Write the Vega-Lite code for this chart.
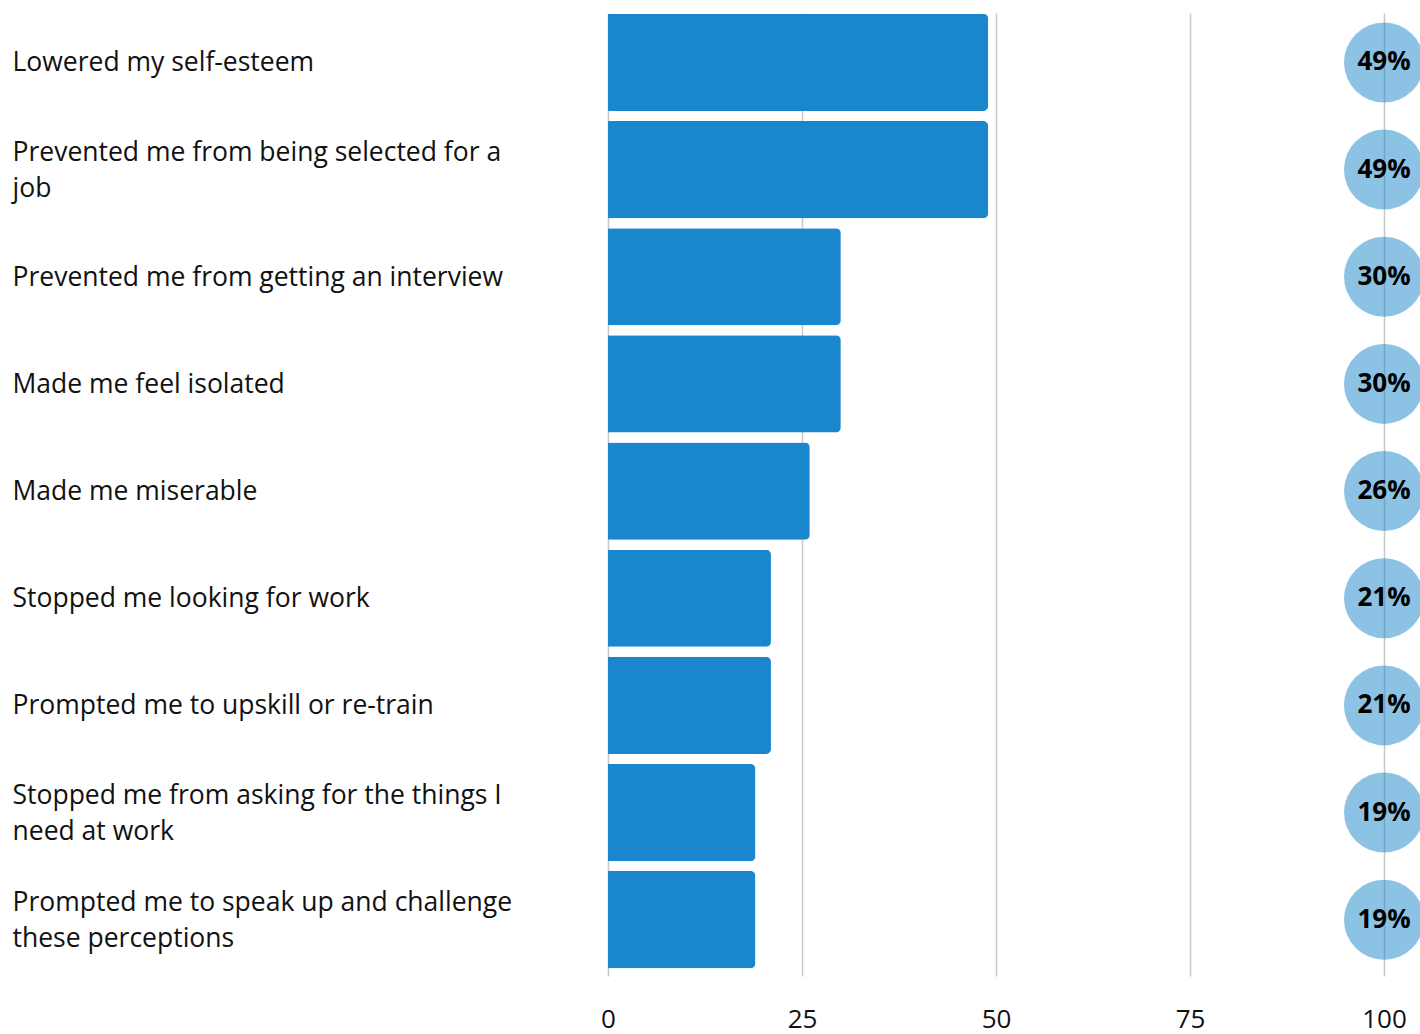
{
  "$schema": "https://vega.github.io/schema/vega-lite/v6.json",
  "width": 776,
  "height": 963,
  "autosize": {"type": "none"},
  "padding": {"left": 608, "top": 13, "right": 36, "bottom": 58},
  "background": "white",
  "config": {"view": {"stroke": null}, "font": "Open Sans"},
  "data": {
    "values": [
      {"category": "Lowered my self-esteem", "value": 49, "label": "49%"},
      {"category": "Prevented me from being selected for a job", "value": 49, "label": "49%"},
      {"category": "Prevented me from getting an interview", "value": 30, "label": "30%"},
      {"category": "Made me feel isolated", "value": 30, "label": "30%"},
      {"category": "Made me miserable", "value": 26, "label": "26%"},
      {"category": "Stopped me looking for work", "value": 21, "label": "21%"},
      {"category": "Prompted me to upskill or re-train", "value": 21, "label": "21%"},
      {"category": "Stopped me from asking for the things I need at work", "value": 19, "label": "19%"},
      {"category": "Prompted me to speak up and challenge these perceptions", "value": 19, "label": "19%"}
    ]
  },
  "encoding": {
    "y": {
      "field": "category",
      "type": "nominal",
      "sort": null,
      "scale": {"paddingInner": 0.093, "paddingOuter": 0.04, "align": 0.1},
      "axis": {
        "title": null,
        "domain": false,
        "ticks": false,
        "labelAlign": "left",
        "labelBaseline": "middle",
        "labelPadding": 596,
        "labelLimit": 700,
        "labelFontSize": 26.5,
        "labelLineHeight": 36,
        "labelColor": "#111111",
        "labelFont": "Open Sans",
        "labelOffset": {"condition": {"test": "length(datum.value) > 40", "value": -17}, "value": 1},
        "labelExpr": "datum.value == 'Prevented me from being selected for a job' ? ['Prevented me from being selected for a', 'job'] : datum.value == 'Stopped me from asking for the things I need at work' ? ['Stopped me from asking for the things I', 'need at work'] : datum.value == 'Prompted me to speak up and challenge these perceptions' ? ['Prompted me to speak up and challenge', 'these perceptions'] : datum.value"
      }
    }
  },
  "layer": [
    {
      "mark": {"type": "bar", "color": "#1a87cc", "cornerRadiusEnd": 5},
      "encoding": {
        "x": {
          "field": "value",
          "type": "quantitative",
          "scale": {"domain": [0, 100], "nice": false},
          "axis": {
            "title": null,
            "values": [0, 25, 50, 75, 100],
            "grid": true,
            "gridColor": "#c8c8c8",
            "gridWidth": 1.5,
            "domain": false,
            "ticks": false,
            "labelFlush": false,
            "labelFontSize": 26,
            "labelPadding": 30,
            "labelColor": "#111111",
            "labelFont": "Open Sans"
          }
        }
      }
    },
    {
      "mark": {"type": "circle", "color": "#1a87cc", "opacity": 0.5, "size": 6400},
      "encoding": {"x": {"datum": 100, "type": "quantitative"}}
    },
    {
      "mark": {"type": "text", "fontSize": 26, "fontWeight": "bold", "color": "#000000", "font": "Open Sans"},
      "encoding": {
        "x": {"datum": 100, "type": "quantitative"},
        "text": {"field": "label"}
      }
    }
  ]
}
